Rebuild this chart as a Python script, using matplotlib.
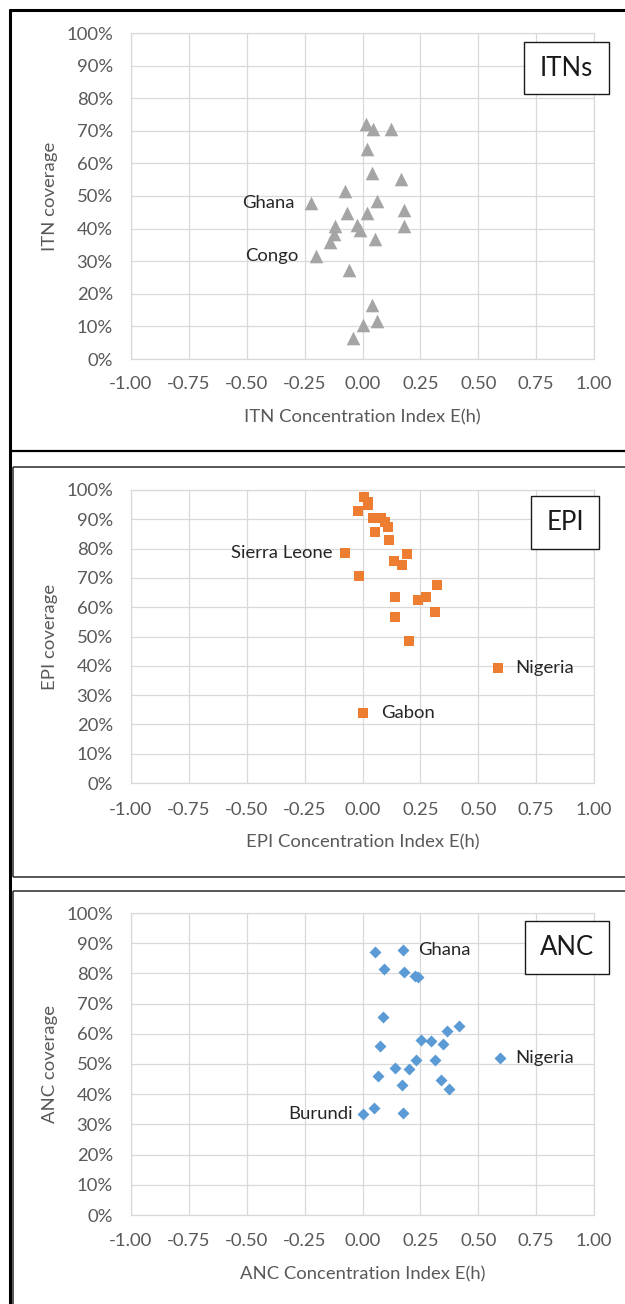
import matplotlib
matplotlib.use("Agg")
import matplotlib.pyplot as plt
from matplotlib.patches import Rectangle
from matplotlib.lines import Line2D
from matplotlib.ticker import FuncFormatter

plt.rcParams['font.family'] = ['Lato', 'DejaVu Sans']

# ---------------- data ----------------
itn_x = [0.014, 0.046, 0.124, 0.021, 0.041, 0.165, -0.076, -0.223, 0.062, -0.069,
         0.021, 0.179, -0.120, -0.024, -0.009, 0.179, -0.124, -0.141, 0.052, -0.203,
         -0.060, 0.041, 0.062, 0.003, -0.040]
itn_y = [72.0, 70.7, 70.7, 64.5, 57.2, 55.1, 51.4, 48.0, 48.5, 44.7,
         44.7, 45.7, 40.9, 41.1, 39.6, 40.9, 38.3, 35.8, 36.7, 31.6,
         27.3, 16.5, 11.8, 10.4, 6.3]
itn_labels = {"Ghana": 7, "Congo": 19}

epi_x = [0.007, 0.024, 0.022, -0.019, 0.046, 0.081, 0.098, 0.110, 0.053, 0.114,
         -0.074, 0.191, 0.134, 0.170, -0.014, 0.322, 0.139, 0.274, 0.239, 0.313,
         0.139, 0.200, 0.587, 0.002]
epi_y = [97.5, 96.0, 94.8, 92.8, 90.3, 90.6, 89.0, 87.5, 85.6, 83.0,
         78.4, 78.0, 75.6, 74.4, 70.8, 67.5, 63.6, 63.6, 62.4, 58.3,
         56.7, 48.4, 39.1, 23.9]
epi_labels = {"Sierra Leone": 10, "Nigeria": 22, "Gabon": 23}

anc_x = [0.055, 0.174, 0.095, 0.179, 0.225, 0.239, 0.089, 0.417, 0.363, 0.253,
         0.294, 0.346, 0.076, 0.592, 0.232, 0.315, 0.141, 0.201, 0.067, 0.339,
         0.170, 0.375, 0.050, 0.174, 0.002]
anc_y = [87.1, 87.9, 81.6, 80.4, 79.3, 78.8, 65.7, 62.6, 61.0, 58.0,
         57.7, 56.7, 56.0, 52.1, 51.4, 51.4, 48.7, 48.4, 45.9, 44.8,
         42.9, 41.6, 35.4, 33.8, 33.4]
anc_labels = {"Ghana": 1, "Nigeria": 13, "Burundi": 24}

x_ticks = [-1.00, -0.75, -0.50, -0.25, 0.00, 0.25, 0.50, 0.75, 1.00]
y_ticks = [0, 10, 20, 30, 40, 50, 60, 70, 80, 90, 100]

# ---------------- layout ----------------
W, H = 625, 1304
fig = plt.figure(figsize=(W / 100, H / 100), dpi=100)
fig.patch.set_facecolor('white')


def fx(px):
    return px / W


def fy(py):
    return 1 - py / H


GRID = '#D9D9D9'
TXT = '#595959'
TICK_FS = 13.3
LABEL_FS = 13.3
ANN_FS = 13.3

panels = [
    dict(x=itn_x, y=itn_y, labels=itn_labels, marker='^', color='#A5A5A5', ms=9.8,
         area=(131, 33, 594, 359), xlabel='ITN Concentration Index E(h)',
         ylabel='ITN coverage', title='ITNs', box=(524, 42, 609, 94),
         xl=417, tl=386,
         offs={"Ghana": (-16, 'right'), "Congo": (-17, 'right')}),
    dict(x=epi_x, y=epi_y, labels=epi_labels, marker='s', color='#ED7D31', ms=7.0,
         area=(131, 490, 594, 783), xlabel='EPI Concentration Index E(h)',
         ylabel='EPI coverage', title='EPI', box=(531, 496, 599, 549),
         xl=842, tl=812,
         offs={"Sierra Leone": (-13, 'right'), "Nigeria": (17, 'left'), "Gabon": (18, 'left')}),
    dict(x=anc_x, y=anc_y, labels=anc_labels, marker='D', color='#5B9BD5', ms=6.1,
         area=(131, 913, 594, 1215), xlabel='ANC Concentration Index E(h)',
         ylabel='ANC coverage', title='ANC', box=(525, 921, 609, 974),
         xl=1274, tl=1243,
         offs={"Ghana": (15, 'left'), "Nigeria": (16, 'left'), "Burundi": (-10, 'right')}),
]

for p in panels:
    l, t, r, b = p['area']
    ax = fig.add_axes([fx(l), fy(b), fx(r) - fx(l), fy(t) - fy(b)])
    ax.set_xlim(-1, 1)
    ax.set_ylim(0, 100)
    ax.set_xticks(x_ticks)
    ax.set_yticks(y_ticks)
    ax.xaxis.set_major_formatter(FuncFormatter(lambda v, pos: f"{v:.2f}"))
    ax.yaxis.set_major_formatter(FuncFormatter(lambda v, pos: f"{v:.0f}%"))
    ax.grid(True, color=GRID, linewidth=0.9)
    ax.set_axisbelow(True)
    for s in ax.spines.values():
        s.set_color(GRID)
        s.set_linewidth(0.9)
    ax.tick_params(length=0, labelsize=TICK_FS, labelcolor=TXT)
    ax.tick_params(axis='y', pad=13)
    ax.tick_params(axis='x', pad=(p['tl'] - b) / 1.389 - 7)
    ax.scatter(p['x'], p['y'], marker=p['marker'], s=p['ms'] ** 2, color=p['color'],
               linewidths=0, zorder=3)
    ax.set_xlabel(p['xlabel'], fontsize=LABEL_FS, color=TXT)
    ax.xaxis.label.set_va('center')
    ax.xaxis.set_label_coords(0.5, (b - p['xl']) / (b - t))
    ax.set_ylabel(p['ylabel'], fontsize=LABEL_FS, color=TXT)
    ax.yaxis.label.set_va('center')
    ax.yaxis.set_label_coords((50 - l) / (r - l), 0.5)
    for name, idx in p['labels'].items():
        dx, ha = p['offs'][name]
        ax.annotate(name, (p['x'][idx], p['y'][idx]), xytext=(dx / 1.389, 0),
                    textcoords='offset points', ha=ha, va='center',
                    fontsize=ANN_FS, color='#262626', zorder=4)
    # title box
    bl, bt, br, bb = p['box']
    fig.add_artist(Rectangle((fx(bl), fy(bb)), fx(br) - fx(bl), fy(bt) - fy(bb),
                             transform=fig.transFigure, facecolor='white',
                             edgecolor='#1a1a1a', linewidth=1.0, zorder=5))
    fig.text(fx((bl + br) / 2), fy((bt + bb) / 2), p['title'], ha='center', va='center',
             fontsize=18.5, color='#1a1a1a', zorder=6)

# ---------------- panel frames ----------------
def hline(y, x0, x1, lw, c):
    fig.add_artist(Line2D([fx(x0), fx(x1)], [fy(y), fy(y)], transform=fig.transFigure,
                          color=c, linewidth=lw, solid_capstyle='butt'))


def vline(x, y0, y1, lw, c):
    fig.add_artist(Line2D([fx(x), fx(x)], [fy(y0), fy(y1)], transform=fig.transFigure,
                          color=c, linewidth=lw, solid_capstyle='butt'))


# panel 1: thick black frame
hline(10, 8.5, 626, 2.2, '#000000')
hline(451, 8.5, 626, 1.6, '#000000')
vline(9.5, 9, 1305, 2.2, '#000000')
# panel 2 frame
hline(467, 13, 626, 1.2, '#3a3a3a')
hline(877, 13, 626, 1.2, '#3a3a3a')
vline(13, 467, 877, 1.2, '#3a3a3a')
# panel 3 frame
hline(891, 13, 626, 1.2, '#3a3a3a')
vline(13, 891, 1305, 1.2, '#3a3a3a')

fig.savefig('out.png', dpi=100, facecolor='white')
